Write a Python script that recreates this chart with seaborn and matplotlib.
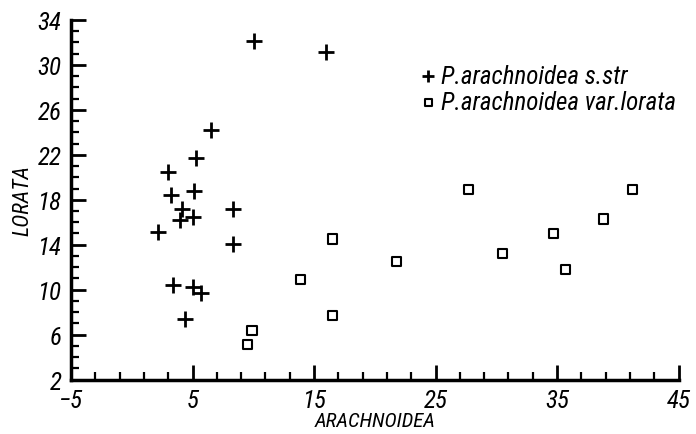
# scatter of LORATA vs ARACHNOIDEA for two taxa
import numpy as np
import pandas as pd
import matplotlib
matplotlib.use("Agg")
import matplotlib.pyplot as plt
import seaborn as sns
from matplotlib import font_manager
from matplotlib.ticker import FixedLocator

# P. arachnoidea s.str (plus markers)
str_x = [10.1, 16.0, 6.5, 5.3, 3.0, 3.2, 5.1, 4.1, 8.3, 4.0, 5.0, 2.2, 8.3, 3.4, 5.0, 5.7, 4.4]
str_y = [32.1, 31.1, 24.2, 21.7, 20.5, 18.4, 18.8, 17.2, 17.2, 16.2, 16.5, 15.1, 14.1, 10.4, 10.2, 9.7, 7.4]

# P. arachnoidea var. lorata (open squares)
lor_x = [16.5, 13.9, 16.5, 9.9, 9.5, 21.8, 30.5, 34.7, 35.7, 38.8, 27.7, 41.2]
lor_y = [14.5, 10.9, 7.7, 6.4, 5.1, 12.5, 13.2, 15.0, 11.8, 16.3, 18.9, 18.9]

lab_str = "P.arachnoidea s.str"
lab_lor = "P.arachnoidea var.lorata"

df = pd.DataFrame({
    "ARACHNOIDEA": str_x + lor_x,
    "LORATA": str_y + lor_y,
    "taxon": [lab_str] * len(str_x) + [lab_lor] * len(lor_x),
})

# pick a narrow face if one is around
have = {f.name for f in font_manager.fontManager.ttflist}
narrow = [n for n in ["Roboto Condensed", "Liberation Sans Narrow", "DejaVu Sans Condensed"]
          if n in have]

sns.set_style("white")
plt.rcParams["font.family"] = narrow + ["DejaVu Sans"]
plt.rcParams["font.style"] = "italic"
plt.rcParams["text.color"] = "black"
plt.rcParams["xtick.color"] = "black"
plt.rcParams["ytick.color"] = "black"
plt.rcParams["axes.labelcolor"] = "black"

fig = plt.figure(figsize=(6.96, 4.35), dpi=100)
ax = fig.add_axes([0.102, 0.125, 0.873, 0.827])

sns.scatterplot(data=df[df.taxon == lab_str], x="ARACHNOIDEA", y="LORATA",
                marker="+", color="black", s=140, linewidth=2.0, ax=ax, label=lab_str)
sns.scatterplot(data=df[df.taxon == lab_lor], x="ARACHNOIDEA", y="LORATA",
                marker="s", facecolor="none", edgecolor="black", s=45, linewidth=1.5,
                ax=ax, label=lab_lor)

ax.set_xlim(-5, 45)
ax.set_ylim(2, 34)
ax.xaxis.set_major_locator(FixedLocator(np.arange(-5, 46, 10)))
ax.xaxis.set_minor_locator(FixedLocator(np.arange(-5, 46, 2)))
ax.yaxis.set_major_locator(FixedLocator(np.arange(2, 35, 4)))
ax.yaxis.set_minor_locator(FixedLocator(np.arange(2, 35, 1)))
ax.tick_params(which="major", direction="in", length=11, width=2, labelsize=18)
ax.tick_params(axis="x", which="major", pad=6)
ax.tick_params(axis="y", which="major", pad=7)
ax.tick_params(which="minor", direction="in", length=6, width=1.6)
ax.tick_params(axis="x", which="both", bottom=True)
ax.tick_params(axis="y", which="both", left=True)

sns.despine(ax=ax)
for s in ["left", "bottom"]:
    ax.spines[s].set_linewidth(2.5)
    ax.spines[s].set_color("black")

ax.set_xlabel("ARACHNOIDEA", fontsize=15, labelpad=-1)
ax.set_ylabel("LORATA", fontsize=16, labelpad=3)

leg = ax.legend(loc="upper right", bbox_to_anchor=(1.02, 0.92), frameon=False, fontsize=18,
                handletextpad=0.0, labelspacing=0.1, handlelength=1.0, borderaxespad=0.2,
                markerscale=0.7)

fig.savefig("out.png", dpi=100)
